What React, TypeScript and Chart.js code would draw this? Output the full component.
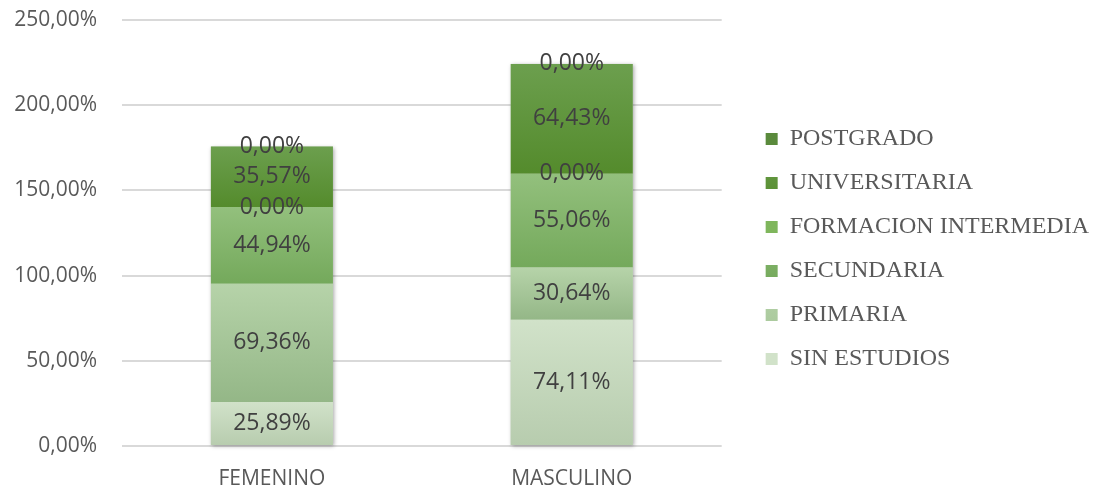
import React, { useEffect, useRef } from "react";
import { Chart, registerables } from "chart.js";

Chart.register(...registerables);

const categories = ["FEMENINO", "MASCULINO"];
const seriesNames = [
  "SIN ESTUDIOS",
  "PRIMARIA",
  "SECUNDARIA",
  "FORMACION INTERMEDIA",
  "UNIVERSITARIA",
  "POSTGRADO",
];
const sinEstudios = [25.89, 74.11];
const primaria = [69.36, 30.64];
const secundaria = [44.94, 55.06];
const formacionIntermedia = [0, 0];
const universitaria = [35.57, 64.43];
const postgrado = [0, 0];
const yTicks = [0, 50, 100, 150, 200, 250];

const seriesValues = [sinEstudios, primaria, secundaria, formacionIntermedia, universitaria, postgrado];
// [top color, bottom color, legend color]
const seriesColors = [
  ["#d1e2c9", "#b7ccae", "#c9dcc0"],
  ["#b6d3a9", "#94b787", "#a9c99b"],
  ["#93c07d", "#74a95b", "#84b76b"],
  ["#7fb65c", "#63a03c", "#6aa845"],
  ["#6c9f4e", "#548b2c", "#5a8f38"],
  ["#5a8a3c", "#4a7a2a", "#4e7a31"],
];

const fmt = (v: number) => v.toFixed(2).replace(".", ",") + "%";

export default function App() {
  const ref = useRef<HTMLCanvasElement | null>(null);

  useEffect(() => {
    if (!ref.current) return;

    const makeBg = (si: number) => (ctx: any) => {
      const cols = seriesColors[si];
      if (ctx.type !== "data") return cols[2];
      const chart = ctx.chart;
      const y = chart.scales && chart.scales.y;
      if (!y || !chart.chartArea) return cols[2];
      const di = ctx.dataIndex;
      let start = 0;
      for (let k = 0; k < si; k++) start += seriesValues[k][di];
      const end = start + seriesValues[si][di];
      const p0 = y.getPixelForValue(end);
      const p1 = y.getPixelForValue(start);
      if (!isFinite(p0) || !isFinite(p1) || Math.abs(p1 - p0) < 0.5) return cols[0];
      const g = chart.ctx.createLinearGradient(0, p0, 0, p1);
      g.addColorStop(0, cols[0]);
      g.addColorStop(1, cols[1]);
      return g;
    };

    const shadowPlugin = {
      id: "barShadow",
      beforeDatasetsDraw(chart: any) {
        const c = chart.ctx;
        const first = chart.getDatasetMeta(0);
        const last = chart.getDatasetMeta(seriesNames.length - 1);
        c.save();
        c.shadowColor = "rgba(0,0,0,0.35)";
        c.shadowBlur = 4;
        c.shadowOffsetX = 1;
        c.shadowOffsetY = 1;
        c.fillStyle = "#c8d8c0";
        first.data.forEach((el: any, i: number) => {
          const top = last.data[i];
          const w = el.width;
          c.fillRect(el.x - w / 2, top.y, w, el.base - top.y);
        });
        c.restore();
      },
    };

    const labelPlugin = {
      id: "segLabels",
      afterDatasetsDraw(chart: any) {
        const c = chart.ctx;
        c.save();
        c.font = "23px 'Open Sans'";
        c.fillStyle = "#404040";
        c.textAlign = "center";
        c.textBaseline = "middle";
        chart.data.datasets.forEach((ds: any, di: number) => {
          const meta = chart.getDatasetMeta(di);
          meta.data.forEach((el: any, i: number) => {
            const v = ds.data[i];
            c.fillText(fmt(v), el.x, (el.y + el.base) / 2);
          });
        });
        c.restore();
      },
    };

    Chart.defaults.font.family = "'Open Sans'";

    const chart = new Chart(ref.current, {
      type: "bar",
      data: {
        labels: categories,
        datasets: seriesNames.map((name, si) => ({
          label: name,
          data: seriesValues[si],
          backgroundColor: makeBg(si),
          borderWidth: 0,
          barPercentage: 0.407,
          categoryPercentage: 1,
        })),
      },
      options: {
        responsive: false,
        animation: false,
        layout: { padding: { top: 8, bottom: 0, left: 0, right: 4 } },
        plugins: {
          tooltip: { enabled: false },
          legend: {
            position: "right",
            reverse: true,
            maxWidth: 400,
            labels: {
              boxWidth: 12,
              boxHeight: 12,
              padding: 20,
              color: "#595959",
              font: { family: "'Liberation Serif'", size: 24 },
            },
          },
        },
        scales: {
          x: {
            stacked: true,
            grid: { display: false, drawTicks: false },
            border: { display: false },
            ticks: { color: "#595959", font: { size: 21 }, padding: 20 },
            afterFit: (s: any) => {
              s.height = 44;
            },
          },
          y: {
            stacked: true,
            min: 0,
            max: 250,
            afterBuildTicks: (s: any) => {
              s.ticks = yTicks.map((v) => ({ value: v }));
            },
            grid: { color: "#d9d9d9", lineWidth: 2, drawTicks: false },
            border: { display: false },
            ticks: {
              color: "#595959",
              font: { size: 21 },
              padding: 25,
              callback: (v: any) => fmt(Number(v)),
            },
            afterFit: (s: any) => {
              s.width = 122;
              s.paddingTop = 20;
              s.paddingBottom = 0;
            },
          },
          y2: {
            type: "linear",
            position: "right",
            display: true,
            grid: { display: false, drawTicks: false },
            border: { display: false },
            ticks: { display: false },
            afterFit: (s: any) => {
              s.width = 24;
            },
          },
        },
      },
      plugins: [shadowPlugin, labelPlugin],
    });

    return () => chart.destroy();
  }, []);

  return (
    <div style={{ position: "absolute", left: 0, top: 0, width: 1103, height: 490, background: "#fff" }}>
      <canvas ref={ref} width={1103} height={490} style={{ display: "block" }} />
    </div>
  );
}
